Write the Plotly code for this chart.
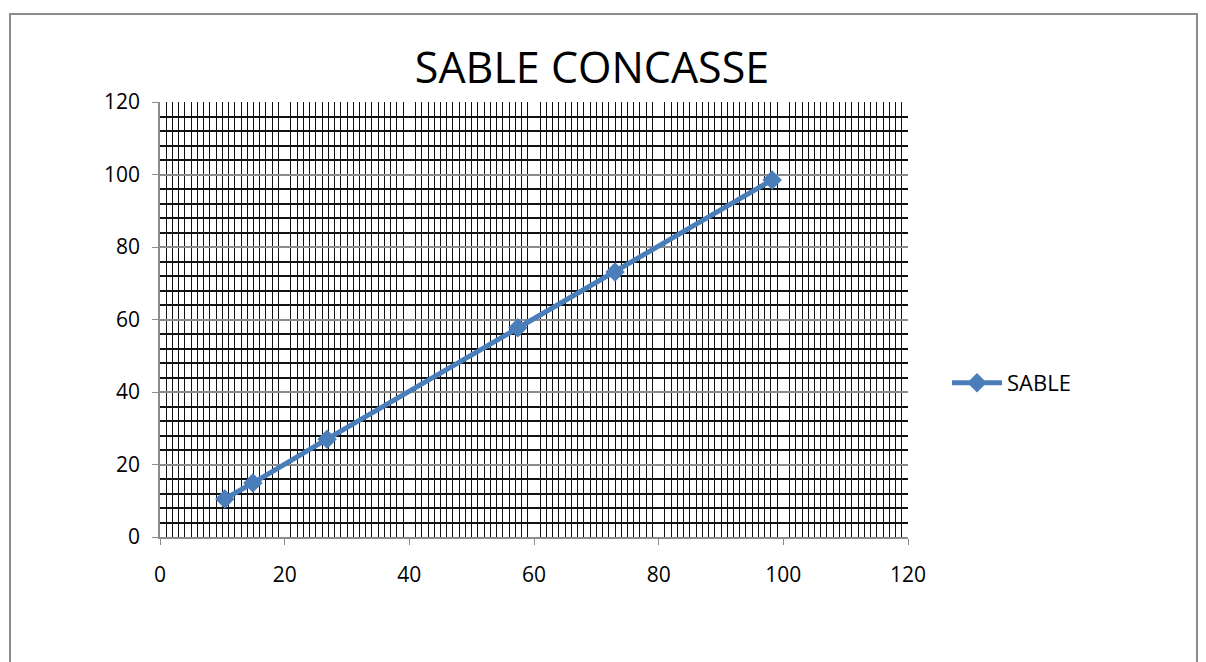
import plotly.graph_objects as go

x_vals = [10.4, 14.9, 26.8, 57.4, 73.0, 98.2]
y_vals = [10.5, 14.9, 27.0, 57.7, 73.1, 98.5]
series_name = "SABLE"
title_text = "SABLE CONCASSE"

OFF = 8  # page body margin
W, H = 1206, 662
L = 160 - OFF
T = 102 - OFF
R = W - (908 - OFF)
B = H - (537 - OFF)
pw, ph = W - L - R, H - T - B

fig = go.Figure()
fig.add_trace(go.Scatter(
    x=x_vals, y=y_vals, mode="lines+markers", name=series_name,
    line=dict(color="#4A7EBB", width=5),
    marker=dict(symbol="diamond", size=15, color="#4A7EBB"),
))

def px_to_paper_x(p):
    return (p - OFF - L) / pw

def px_to_paper_y(p):
    return (H - B - (p - OFF)) / ph

fig.add_shape(type="rect", xref="paper", yref="paper",
              x0=px_to_paper_x(10), x1=px_to_paper_x(1197),
              y0=px_to_paper_y(14), y1=px_to_paper_y(720),
              line=dict(color="#8c8c8c", width=2), layer="below")

fig.update_layout(
    width=W, height=H,
    margin=dict(l=L, r=R, t=T, b=B),
    paper_bgcolor="white", plot_bgcolor="white",
    title=dict(text=title_text, x=(592 - OFF) / W, xanchor="center",
               y=1 - (68 - OFF) / H, yanchor="middle",
               font=dict(family="Open Sans", size=43, color="black")),
    font=dict(family="Open Sans", size=21, color="black"),
    showlegend=True,
    legend=dict(x=px_to_paper_x(947), y=px_to_paper_y(383), xanchor="left",
                yanchor="middle", font=dict(size=22), bgcolor="rgba(0,0,0,0)",
                itemwidth=50),
    xaxis=dict(range=[0, 120], dtick=20, showgrid=False, showline=True,
               linecolor="#8c8c8c", linewidth=1.5, ticks="outside", ticklen=6,
               tickcolor="#8c8c8c", zeroline=False, ticklabelstandoff=12,
               minor=dict(dtick=1, showgrid=True, gridcolor="#111111",
                          gridwidth=1.2, ticks="")),
    yaxis=dict(range=[0, 120], dtick=20, showgrid=True, gridcolor="#8c8c8c",
               gridwidth=2, showline=True, linecolor="#8c8c8c", linewidth=1.5,
               ticks="outside", ticklen=6, tickcolor="#8c8c8c", zeroline=False,
               ticklabelstandoff=8,
               minor=dict(dtick=4, showgrid=True, gridcolor="#111111",
                          gridwidth=1.5, ticks="")),
)

fig.write_html("out.html")
